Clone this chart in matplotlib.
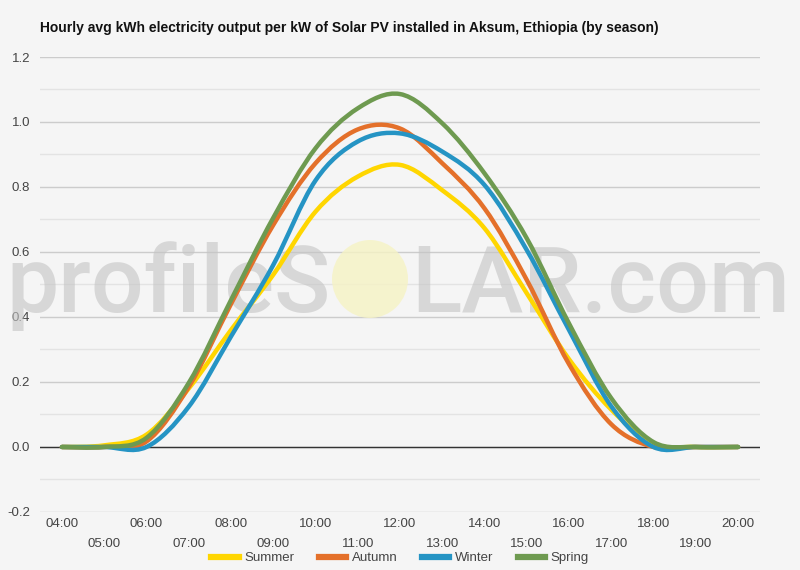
import matplotlib
matplotlib.use('Agg')  # no display
import matplotlib.pyplot as plt
from matplotlib.path import Path
from matplotlib.patches import PathPatch, Ellipse
from matplotlib.lines import Line2D
import numpy as np

# hourly values (kWh per kW)
hours = [4, 5, 6, 7, 8, 9, 10, 11, 12, 13, 14, 15, 16, 17, 18, 19, 20]
hour_labels = ['04:00', '05:00', '06:00', '07:00', '08:00', '09:00', '10:00', '11:00',
               '12:00', '13:00', '14:00', '15:00', '16:00', '17:00', '18:00', '19:00', '20:00']
summer = [0, 0.005, 0.038, 0.18, 0.36, 0.53, 0.724, 0.832, 0.868, 0.79, 0.673, 0.473,
          0.27, 0.115, 0.01, 0, 0]
autumn = [0, 0, 0.017, 0.185, 0.44, 0.683, 0.873, 0.977, 0.98, 0.873, 0.734, 0.514,
          0.255, 0.07, 0, 0, 0]
winter = [0, 0, 0, 0.124, 0.34, 0.56, 0.82, 0.94, 0.965, 0.909, 0.806, 0.606,
          0.36, 0.125, 0, 0, 0]
spring = [0, 0, 0.028, 0.197, 0.452, 0.705, 0.919, 1.042, 1.086, 0.996, 0.842, 0.642,
          0.38, 0.15, 0.015, 0, 0]

series_names = ['Summer', 'Autumn', 'Winter', 'Spring']
colors = ['#ffd600', '#e4702a', '#2594c4', '#6e9a50']
bg = '#f5f5f5'
text_col = '#444444'
font = ['Liberation Sans', 'DejaVu Sans']


def smooth_path(xs, ys):
    # Catmull-Rom style cubic bezier through the hourly points
    pts = np.column_stack([xs, ys]).astype(float)
    padded = np.vstack([pts[0], pts, pts[-1]])
    verts = [pts[0]]
    codes = [Path.MOVETO]
    for i in range(len(pts) - 1):
        p0, p1, p2, p3 = padded[i], padded[i + 1], padded[i + 2], padded[i + 3]
        verts += [p1 + (p2 - p0) / 6, p2 - (p3 - p1) / 6, p2]
        codes += [Path.CURVE4] * 3
    return Path(verts, codes)


fig = plt.figure(figsize=(8, 5.7), dpi=100, facecolor=bg)
ax = fig.add_axes([0.05, 0.1018, 0.9, 0.7982], facecolor=bg)

# y grid: darker every 0.2, lighter in between
ax.set_ylim(-0.2, 1.2)
ax.set_yticks(np.arange(-0.2, 1.21, 0.2))
ax.set_yticks(np.arange(-0.1, 1.2, 0.2), minor=True)
ax.set_yticklabels(['%.1f' % v for v in np.arange(-0.2, 1.21, 0.2)], fontsize=9.5,
                   color=text_col, family=font)
ax.grid(axis='y', which='major', color='#cccccc', lw=1)
ax.grid(axis='y', which='minor', color='#e3e3e3', lw=1)
ax.set_axisbelow(True)
ax.axhline(0, color='#333333', lw=1, zorder=2)

# x ticks in two staggered rows
ax.set_xlim(3.48, 20.52)
ax.set_xticks(hours[::2])
ax.set_xticklabels(hour_labels[::2], fontsize=9.5, color=text_col, family=font)
ax.set_xticks(hours[1::2], minor=True)
ax.set_xticklabels(hour_labels[1::2], minor=True, fontsize=9.5, color=text_col, family=font)
ax.tick_params(axis='x', which='major', length=0, pad=4.5)
ax.tick_params(axis='x', which='minor', length=0, pad=18.5)
ax.tick_params(axis='y', which='both', length=0, pad=7)
for s in ax.spines.values():
    s.set_visible(False)

# watermark
wm_col = '#c4c4c4'
ax.text(0.413, 0.4526, 'profileS', transform=fig.transFigure, ha='right', va='baseline',
        fontsize=67, fontweight='medium', family='Roboto', color=wm_col, alpha=0.6, zorder=1)
ax.text(0.514, 0.4526, 'LAR.com', transform=fig.transFigure, ha='left', va='baseline',
        fontsize=67, fontweight='medium', family='Roboto', color=wm_col, alpha=0.6, zorder=1)
sun = Ellipse((0.4625, 0.5105), 76 / 800, 78 / 570, transform=fig.transFigure,
              facecolor='#f6f3c4', edgecolor='none', alpha=0.8, zorder=1, clip_on=False)
ax.add_patch(sun)

# curves
for name, vals, c in zip(series_names, [summer, autumn, winter, spring], colors):
    ax.add_patch(PathPatch(smooth_path(hours, vals), fill=False, edgecolor=c, lw=3.2,
                           capstyle='round', joinstyle='round', zorder=3))

fig.text(0.05, 0.951, 'Hourly avg kWh electricity output per kW of Solar PV installed in '
         'Aksum, Ethiopia (by season)', fontsize=10, fontweight='bold', color='#111111',
         family=font, va='center', ha='left')

handles = [Line2D([], [], color=c, lw=4.5) for c in colors]
fig.legend(handles, series_names, loc='center', bbox_to_anchor=(0.5, 0.021), ncol=4,
           frameon=False, handlelength=2.1, handletextpad=0.4, columnspacing=1.85,
           prop={'family': font, 'size': 9.5}, labelcolor=text_col)

fig.savefig('out.png', dpi=100, facecolor=bg)
